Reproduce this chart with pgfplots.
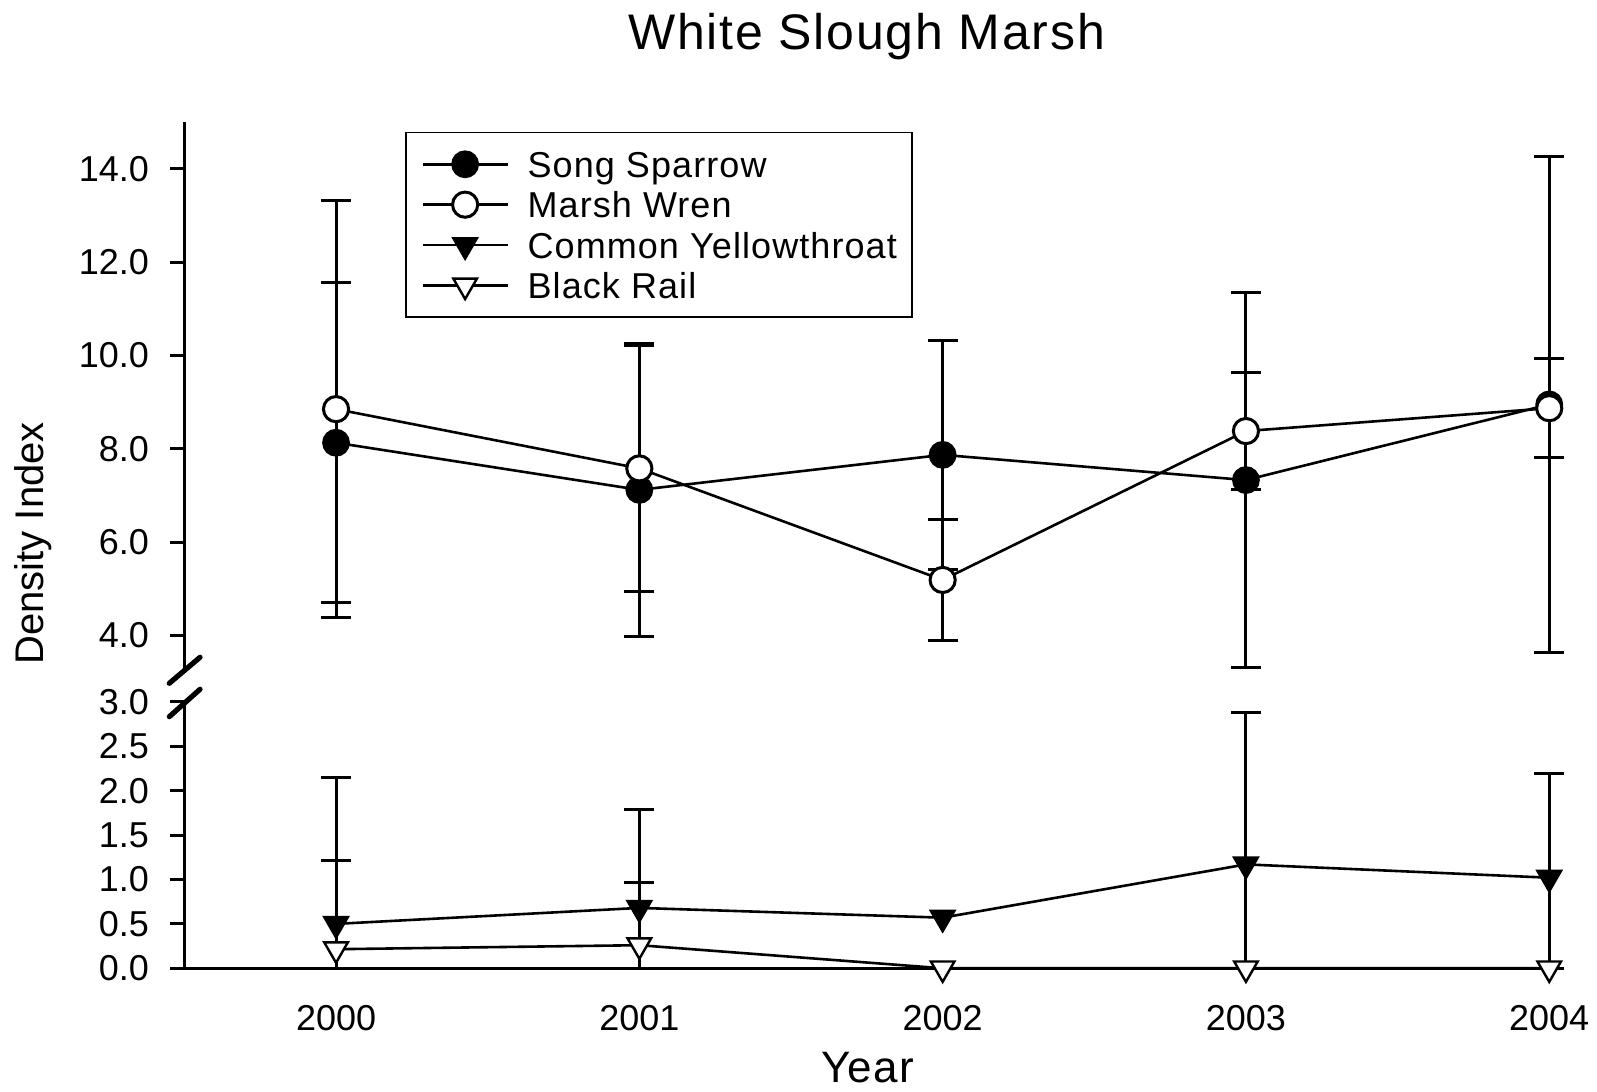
\documentclass[border=0pt]{standalone}
\usepackage{fontspec}
\setmainfont{Liberation Sans}
\newfontfamily\spacedfont{Liberation Sans}[LetterSpace=3]
\newfontfamily\titlefont{Liberation Sans}[LetterSpace=3.5]
\usepackage{pgfplots}
\pgfplotsset{compat=1.18}
\usepackage{pgfplotstable}

\pgfplotstableread{
x y e
2000 8.13 3.43
2001 7.12 3.14
2002 7.87 2.46
2003 7.33 4.01
2004 8.95 5.32
}\songsparrow
\pgfplotstableread{
x y e
2000 8.85 4.47
2001 7.58 2.63
2002 5.19 1.30
2003 8.38 1.25
2004 8.87 1.06
}\marshwren
\pgfplotstableread{
x y
2000 0.50
2001 0.68
2002 0.57
2003 1.17
2004 1.02
}\yellowthroat
\pgfplotstableread{
x y
2000 0.215
2001 0.26
2002 0
2003 0
2004 0
}\blackrail

\pgfplotsset{
  ssstyle/.style={black, solid, line width=1.3pt, mark=*, mark size=6.3pt,
    mark options={fill=black, draw=black, line width=1.3pt}},
  mwstyle/.style={black, solid, line width=1.3pt, mark=*, mark size=6.3pt,
    mark options={fill=white, draw=black, line width=1.5pt}},
  cystyle/.style={black, solid, line width=1.3pt, mark=triangle*, mark size=6.8pt,
    mark options={fill=black, draw=black, rotate=180, line width=1.2pt}},
  brstyle/.style={black, solid, line width=1.3pt, mark=triangle*, mark size=6.8pt,
    mark options={fill=white, draw=black, rotate=180, line width=1.2pt}},
  errstyle/.style={forget plot, draw=none, mark=none,
    error bars/.cd, y dir=both, y explicit,
    error bar style={draw=black, line width=1.5pt, solid},
    error mark=-,
    error mark options={draw=black, line width=1.5pt, mark size=7.5pt, solid, rotate=90}},
}

\begin{document}
\begin{tikzpicture}
\path[use as bounding box] (0pt,0pt) rectangle (798.5pt,546pt);

% ---------- top panel ----------
\begin{axis}[
  at={(92.2pt,210.75pt)}, anchor=south west,
  scale only axis, width=690pt, height=274.2pt,
  xmin=1999.5, xmax=2004.05, ymin=3.25, ymax=15,
  axis x line=none, axis y line*=left,
  axis line style={-, line width=1.5pt, black},
  ytick={4,6,8,10,12,14},
  tick align=outside, major tick length=7pt,
  tick style={line width=1.5pt, black},
  /pgf/number format/assume math mode=true,
  yticklabel style={/pgf/number format/.cd, fixed, fixed zerofill, precision=1, /tikz/.cd,
    font=\fontsize{18}{18}\selectfont, inner sep=0pt, xshift=-10.5pt},
  ylabel={Density Index},
  ylabel style={at={(axis description cs:-0.1093,0.2318)}, anchor=center,
    font=\fontsize{20}{22}\selectfont},
  clip=false,
  legend style={at={(axis description cs:0.1601,0.982)}, anchor=north west,
    draw=black, line width=0.7pt, font=\spacedfont\fontsize{18}{20}\selectfont,
    inner xsep=7.6pt, inner ysep=7.3pt, row sep=3.2pt,
    nodes={inner sep=0pt, text height=15pt, text depth=2pt},
    /tikz/every odd column/.append style={column sep=9.3pt}},
  legend cell align=left,
  legend image code/.code={\draw[mark repeat=2, mark phase=2, #1]
    plot coordinates {(0pt,0pt) (21.3pt,0pt) (42.6pt,0pt)};},
]
\addplot[errstyle] table[x=x, y=y, y error=e] {\songsparrow};
\addplot[errstyle] table[x=x, y=y, y error=e] {\marshwren};
\addplot[ssstyle, forget plot] table[x=x, y=y] {\songsparrow};
\addplot[mwstyle, forget plot] table[x=x, y=y] {\marshwren};
\addlegendimage{ssstyle}
\addlegendentry{Song Sparrow}
\addlegendimage{mwstyle}
\addlegendentry{Marsh Wren}
\addlegendimage{cystyle}
\addlegendentry{Common Yellowthroat}
\addlegendimage{brstyle}
\addlegendentry{Black Rail}
\end{axis}

% ---------- bottom panel ----------
\begin{axis}[
  at={(92.2pt,61.85pt)}, anchor=south west,
  scale only axis, width=690pt, height=133.2pt,
  xmin=1999.5, xmax=2004.05, ymin=0, ymax=3,
  axis x line*=bottom, axis y line*=left,
  axis line style={-, line width=1.5pt, black},
  xtick={2000,2001,2002,2003,2004},
  xticklabels={2000,2001,2002,2003,2004},
  ytick={0,0.5,1,1.5,2,2.5,3},
  tick align=outside, major tick length=7pt,
  tick style={line width=1.5pt, black},
  xtick style={draw=none},
  /pgf/number format/assume math mode=true,
  yticklabel style={/pgf/number format/.cd, fixed, fixed zerofill, precision=1, /tikz/.cd,
    font=\fontsize{18}{18}\selectfont, inner sep=0pt, xshift=-10.5pt},
  xticklabel style={font=\fontsize{18}{18}\selectfont, inner sep=0pt, yshift=-11.5pt},
  xlabel={Year},
  xlabel style={at={(axis description cs:0.4951,-0.374)}, anchor=center, inner sep=0pt,
    font=\spacedfont\fontsize{22}{24}\selectfont},
  clip=true,
]
\addplot[errstyle] coordinates {
  (2000,0.50) +- (0,1.65)
  (2001,0.68) +- (0,1.11)
  (2003,1.17) +- (0,1.71)
  (2004,1.02) +- (0,1.17)
};
\addplot[errstyle] coordinates {
  (2000,0.215) +- (0,1.0)
  (2001,0.26) +- (0,0.71)
};
\addplot[cystyle, forget plot] table[x=x, y=y] {\yellowthroat};
\addplot[brstyle, forget plot] table[x=x, y=y] {\blackrail};
\end{axis}

% axis break marks
\draw[line width=2.6pt, line cap=round] (84.65pt,204.35pt) -- (100pt,217.35pt);
\draw[line width=2.6pt, line cap=round] (84.65pt,187.65pt) -- (100pt,201.35pt);

% title
\node[font=\titlefont\fontsize{25}{30}\selectfont] at (433.35pt,527.7pt) {White Slough Marsh};
\end{tikzpicture}
\end{document}
